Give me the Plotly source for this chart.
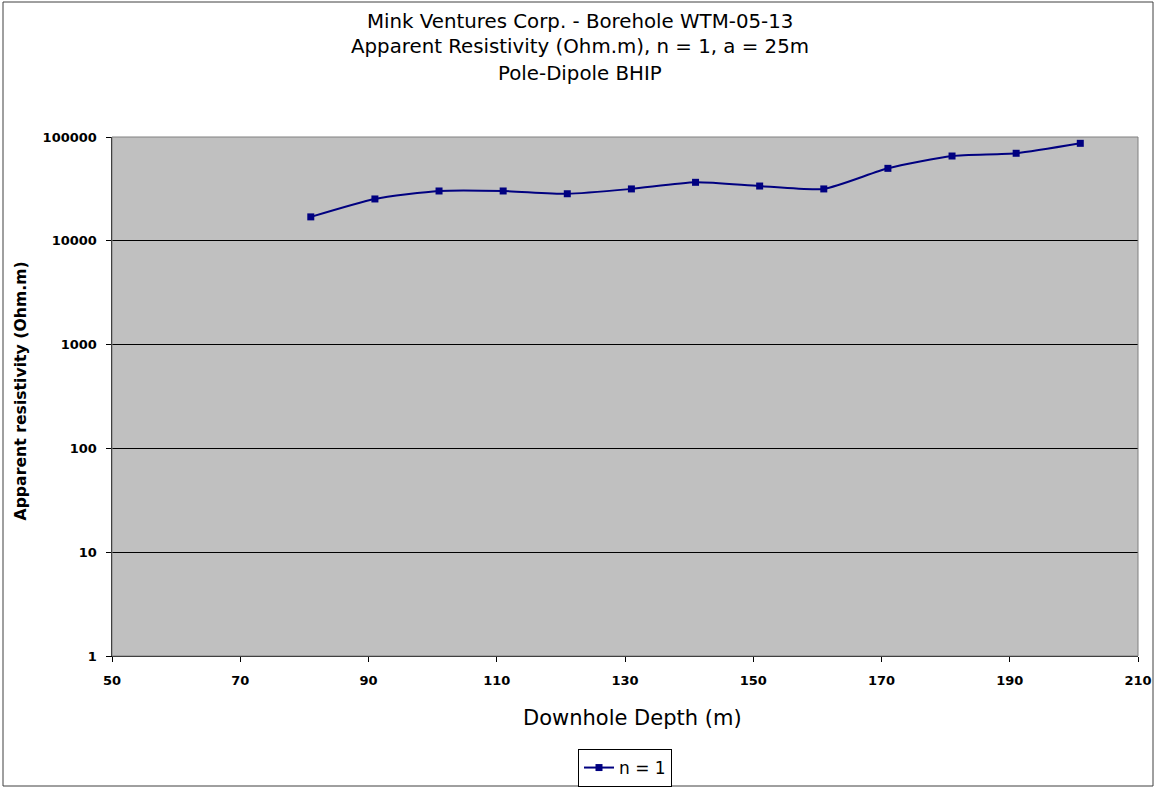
import plotly.graph_objects as go

depth = [81, 91, 101, 111, 121, 131, 141, 151, 161, 171, 181, 191, 201]
resistivity = [17000, 25300, 30200, 30200, 28400, 31600, 36600, 33700, 31600, 49900, 65600, 69700, 86900]
series_name = "n = 1"
title_lines = ["Mink Ventures Corp. - Borehole WTM-05-13",
               "Apparent Resistivity (Ohm.m), n = 1, a = 25m",
               "Pole-Dipole BHIP"]
y_ticks = [1, 10, 100, 1000, 10000, 100000]
x_ticks = [50, 70, 90, 110, 130, 150, 170, 190, 210]

W, H = 1156, 788
L, R, T, B = 112, 1138, 137, 656
pw, ph = R - L, B - T

def px(x):
    return (x - L) / pw

def py(y):
    return (B - y) / ph

FONT = "DejaVu Sans, Verdana, sans-serif"
NAVY = "#000080"

fig = go.Figure()
fig.add_trace(go.Scatter(
    x=depth, y=resistivity, name=series_name, mode="lines+markers",
    line=dict(color=NAVY, width=2, shape="spline", smoothing=0.6),
    marker=dict(symbol="square", size=7, color=NAVY),
))

fig.update_layout(
    width=W, height=H,
    margin=dict(l=L, r=W - R, t=T, b=H - B, autoexpand=False),
    paper_bgcolor="white", plot_bgcolor="#c0c0c0",
    font=dict(family=FONT, color="black", size=13),
    showlegend=True,
    legend=dict(x=0.5, xanchor="center", y=py(749), yanchor="top",
                bgcolor="white", bordercolor="black", borderwidth=1,
                font=dict(size=17, family=FONT), itemwidth=30),
    xaxis=dict(range=[50, 210], tickvals=x_ticks,
               ticktext=[f"<b>{v}</b>" for v in x_ticks],
               showgrid=False, zeroline=False, showline=True, linecolor="black",
               linewidth=1, ticks="outside", ticklen=5, tickcolor="black",
               ticklabelstandoff=7,
               tickfont=dict(size=13, family=FONT)),
    yaxis=dict(type="log", range=[0, 5], tickvals=y_ticks,
               ticktext=[f"<b>{v}</b>\u2002" for v in y_ticks],
               showgrid=True, gridcolor="black", gridwidth=1, zeroline=False,
               showline=True, linecolor="black", linewidth=1,
               ticks="outside", ticklen=5, tickcolor="black",
               tickfont=dict(size=13, family=FONT)),
)

# plot area frame (gray) and outer chart border
fig.add_shape(type="rect", xref="paper", yref="paper", x0=0, x1=1, y0=0, y1=1,
              line=dict(color="#808080", width=1), layer="above")
fig.add_shape(type="rect", xref="paper", yref="paper",
              x0=px(3), x1=px(1153), y0=py(786), y1=py(2),
              line=dict(color="#404040", width=1), layer="above")

# title lines
for txt, yc in zip(title_lines, [22, 47, 73.5]):
    fig.add_annotation(text=txt, xref="paper", yref="paper", x=px(580), y=py(yc),
                       xanchor="center", yanchor="middle", showarrow=False,
                       font=dict(size=19.8, family=FONT))

# axis titles
fig.add_annotation(text="Downhole Depth (m)", xref="paper", yref="paper",
                   x=px(632), y=py(718), xanchor="center", yanchor="middle",
                   showarrow=False, font=dict(size=21, family=FONT))
fig.add_annotation(text="<b>Apparent resistivity (Ohm.m)</b>", xref="paper", yref="paper",
                   x=px(19.5), y=py(391), xanchor="center", yanchor="middle",
                   textangle=-90, showarrow=False, font=dict(size=15.7, family=FONT))

fig.write_html("out.html", config={"displayModeBar": False},
               post_script="document.body.style.margin='0px';")
